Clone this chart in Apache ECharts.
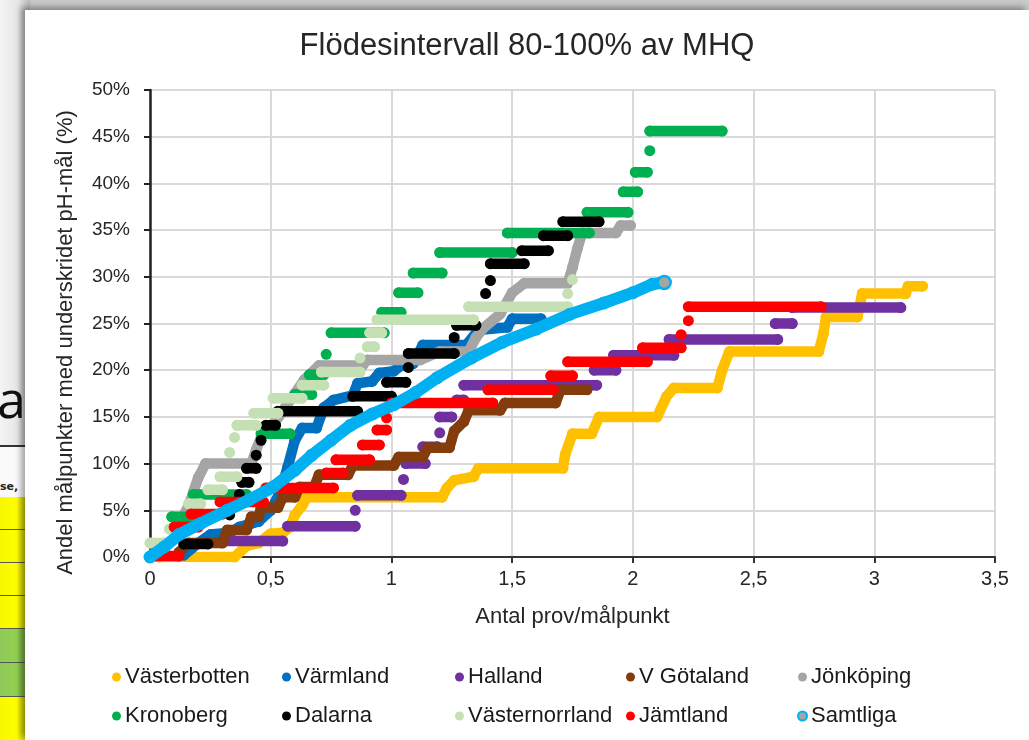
<!DOCTYPE html>
<html>
<head>
<meta charset="utf-8">
<script src="https://cdn.jsdelivr.net/npm/echarts@6/dist/echarts.min.js"></script>
<style>
  html, body { margin: 0; padding: 0; }
  body { width: 1029px; height: 740px; overflow: hidden; position: relative; background: #c9c9c9;
         font-family: "Liberation Sans", Arial, sans-serif; }
  .slide { position: absolute; left: 0; top: 0; width: 30px; height: 740px;
           background: linear-gradient(to right, #f4f4f4 0%, #e6e6e6 60%, #b9b9b9 100%); overflow: hidden; }
  .big { position: absolute; left: -3px; top: 368px; font-family: "Open Sans", sans-serif; font-size: 52px; color: #111; line-height: 60px; }
  .rule { position: absolute; left: 0; width: 30px; height: 2px; background: #333; }
  .head { position: absolute; left: 0; top: 447px; width: 30px; height: 50px; background: #fafafa; }
  .head span { position: absolute; left: 0; top: 33px; font-family: "DejaVu Sans", sans-serif; font-weight: bold; font-size: 11px; color: #222; }
  .cell { position: absolute; left: 0; width: 30px; border-bottom: 1px solid #555; }
  .y { background: linear-gradient(to right, #f7f700 0%, #ffff00 55%, #b7b700 100%); }
  .g { background: linear-gradient(to right, #8fc95a 0%, #92d050 55%, #6a9a3a 100%); }
  #box { position: absolute; left: 25px; top: 10px; width: 1004px; height: 730px; background: #fff;
         box-shadow: -4px -3px 6px rgba(0,0,0,0.35); }
  #chart { width: 1004px; height: 730px; }
</style>
</head>
<body>
<div class="slide">
  <div class="big">a</div>
  <div class="rule" style="top:445px"></div>
  <div class="head"><span>se,</span></div>
  <div class="cell y" style="top:497px;height:32px"></div>
  <div class="cell y" style="top:530px;height:32px"></div>
  <div class="cell y" style="top:563px;height:32px"></div>
  <div class="cell y" style="top:596px;height:32px"></div>
  <div class="cell g" style="top:629px;height:33px"></div>
  <div class="cell g" style="top:663px;height:33px"></div>
  <div class="cell y" style="top:697px;height:43px"></div>
</div>
<div id="box"><div id="chart"></div></div>
<script>
// värden: [antal prov/målpunkt, andel %], en lista per sammanhängande bit
const vasterbotten = [[[0.04,0],[0.35,0],[0.4,1.2],[0.45,1.5],[0.5,2.5],[0.55,2.6],[0.58,3.2],[0.6,4.5],[0.63,5.5],[0.65,6.4],[1.21,6.4],[1.23,7.4],[1.26,8.2],[1.34,8.6],[1.36,9.5],[1.71,9.5],[1.72,11],[1.75,13.2],[1.83,13.2],[1.86,15],[2.1,15],[2.14,17.2],[2.17,18.1],[2.35,18.1],[2.37,20],[2.4,22],[2.77,22],[2.79,24],[2.8,25.7],[2.93,25.7],[2.95,28.2],[3.13,28.2],[3.14,29],[3.2,29]]];
const varmland = [[[0.14,0.2],[0.2,1.5],[0.25,2.4],[0.33,2.6],[0.37,3.2],[0.45,3.8],[0.5,5],[0.54,7],[0.57,9.6],[0.6,12.5],[0.63,13.8],[0.69,13.8],[0.72,16],[0.76,16.8],[0.84,17.3],[0.86,18.6],[0.92,18.8],[0.95,19.7],[1.01,19.9],[1.04,20.5],[1.09,20.7],[1.13,22.7],[1.31,22.7],[1.36,24.3],[1.48,24.6],[1.5,25.5],[1.62,25.5]]];
const halland = [[[0.3,1.7],[0.55,1.7]],[[0.57,3.3],[0.85,3.3]],[[0.85,5.0]],[[0.86,6.6],[1.04,6.6]],[[1.05,8.3]],[[1.06,10],[1.14,10]],[[1.13,11.8],[1.19,11.8]],[[1.2,13.3]],[[1.2,15],[1.25,15]],[[1.27,16.8],[1.3,16.8]],[[1.3,18.4],[1.85,18.4]],[[1.84,20],[1.93,20]],[[1.92,21.6],[2.17,21.6]],[[2.15,23.3],[2.6,23.3]],[[2.59,25],[2.66,25]],[[2.66,26.7],[3.11,26.7]]];
const vGotaland = [[[0.12,0.5],[0.16,1.5],[0.3,1.5],[0.32,2.9],[0.4,2.9],[0.42,4.3],[0.45,4.3],[0.46,5.3],[0.53,5.3],[0.55,6.4],[0.6,6.4],[0.62,7.5],[0.68,7.5],[0.7,8.8],[0.82,8.8],[0.84,9.8],[1.01,9.8],[1.03,10.7],[1.13,10.7],[1.15,11.7],[1.24,11.7],[1.26,13.5],[1.3,14.5],[1.32,15.7],[1.45,15.7],[1.47,16.5],[1.68,16.5],[1.7,17.9],[1.81,17.9]]];
const jonkoping = [[[0.12,3.5],[0.16,5.5],[0.18,7],[0.2,8.5],[0.23,10],[0.42,10],[0.44,11.5],[0.47,13.5],[0.52,14.5],[0.56,16],[0.6,17.5],[0.64,19],[0.7,20.5],[0.88,20.5],[0.9,21.1],[1.12,21.1],[1.2,22],[1.32,22],[1.35,23.5],[1.38,24.5],[1.45,26],[1.5,28.3],[1.55,29.3],[1.73,29.3],[1.75,31],[1.77,33],[1.79,34.7],[1.93,34.7],[1.95,35.5],[1.99,35.5]]];
const kronoberg = [[[0.09,4.3],[0.17,4.3]],[[0.18,6.7],[0.4,6.7]],[[0.46,13.2],[0.58,13.2]],[[0.6,17.4],[0.67,17.4]],[[0.66,19.5],[0.72,19.5]],[[0.73,21.7]],[[0.75,24],[0.97,24]],[[0.96,26.2],[1.04,26.2]],[[1.03,28.3],[1.11,28.3]],[[1.09,30.4],[1.21,30.4]],[[1.2,32.6],[1.5,32.6]],[[1.48,34.7],[1.82,34.7]],[[1.81,36.9],[1.98,36.9]],[[1.96,39.1],[2.02,39.1]],[[2.01,41.2],[2.06,41.2]],[[2.07,43.5]],[[2.07,45.6],[2.37,45.6]]];
const dalarna = [[[0.14,1.4],[0.24,1.4]],[[0.33,4.5]],[[0.37,6.7]],[[0.38,8],[0.41,8]],[[0.4,9.5],[0.44,9.5]],[[0.44,10.9]],[[0.46,12.5]],[[0.48,14.1],[0.52,14.1]],[[0.53,15.6],[0.86,15.6]],[[0.84,17.2],[1.0,17.2]],[[0.98,18.7],[1.06,18.7]],[[1.07,20.3]],[[1.07,21.8],[1.26,21.8]],[[1.26,23.5]],[[1.27,24.8],[1.35,24.8]],[[1.39,28.2]],[[1.41,29.6]],[[1.41,31.4],[1.55,31.4]],[[1.54,32.8],[1.65,32.8]],[[1.63,34.4],[1.73,34.4]],[[1.71,35.9],[1.86,35.9]]];
const vasternorrland = [[[0.0,1.5],[0.06,1.5]],[[0.08,3.0],[0.14,3.0]],[[0.16,5.7],[0.21,5.7]],[[0.24,7.2],[0.3,7.2]],[[0.29,8.6],[0.36,8.6]],[[0.33,11.2]],[[0.35,12.8]],[[0.36,14.1],[0.44,14.1]],[[0.43,15.4],[0.53,15.4]],[[0.51,17],[0.63,17]],[[0.63,18.4],[0.72,18.4]],[[0.71,19.8],[0.87,19.8]],[[0.87,21.3]],[[0.9,22.5],[0.93,22.5]],[[0.91,24],[0.96,24]],[[0.94,25.4],[1.34,25.4]],[[1.32,26.8],[1.73,26.8]],[[1.73,28.2]],[[1.75,29.7]]];
const jamtland = [[[0.02,0.1],[0.12,0.1]],[[0.1,3.2],[0.2,3.2]],[[0.17,4.6],[0.3,4.6]],[[0.29,5.9],[0.47,5.9]],[[0.48,7.4],[0.76,7.4]],[[0.73,9],[0.8,9]],[[0.77,10.4],[0.91,10.4]],[[0.88,12],[0.95,12]],[[0.94,13.6],[0.98,13.6]],[[0.98,14.9]],[[1.0,16.5],[1.42,16.5]],[[1.4,17.9],[1.67,17.9]],[[1.66,19.4],[1.75,19.4]],[[1.73,20.9],[2.06,20.9]],[[2.04,22.4],[2.2,22.4]],[[2.2,23.8]],[[2.23,25.3]],[[2.23,26.8],[2.78,26.8]]];
const samtliga = [[[0,0],[0.06,1.1],[0.12,2.4],[0.21,3.6],[0.32,5.0],[0.41,6.1],[0.51,7.5],[0.6,9.3],[0.67,10.9],[0.75,12.5],[0.83,14.1],[0.92,15.3],[1.01,16.3],[1.1,17.6],[1.19,19.2],[1.33,21.3],[1.46,23],[1.6,24.4],[1.74,26],[1.88,27.2],[2.0,28.3],[2.08,29.2],[2.13,29.4]]];

const regions = ["Västerbotten","Värmland","Halland","V Götaland","Jönköping","Kronoberg","Dalarna","Västernorrland","Jämtland","Samtliga"];
const colors = ["#FFC000","#0070C0","#7030A0","#843C0C","#A5A5A5","#00B050","#000000","#C5E0B4","#FF0000","#00B0F0"];
const seriesPoints = [vasterbotten,varmland,halland,vGotaland,jonkoping,kronoberg,dalarna,vasternorrland,jamtland,samtliga];

const toData = (segs) => {
  const out = [];
  segs.forEach((s, i) => {
    if (i) out.push(null);
    s.forEach((p) => out.push(p));
  });
  return out;
};

const font = '"Liberation Sans", Arial, sans-serif';
const chart = echarts.init(document.getElementById('chart'));

const series = regions.map((name, i) => {
  const big = name === 'Samtliga';
  const data = toData(seriesPoints[i]);
  if (big) {
    const last = data[data.length - 1];
    data[data.length - 1] = { value: last, itemStyle: { color: '#A5A5A5', borderColor: '#00B0F0', borderWidth: 2.5 } };
  }
  return {
    name,
    type: 'line',
    data,
    connectNulls: false,
    showSymbol: true,
    showAllSymbol: true,
    symbol: 'circle',
    symbolSize: big ? 13 : 11,
    lineStyle: { width: big ? 12 : 10.5, color: colors[i], cap: 'round', join: 'round' },
    itemStyle: { color: colors[i], borderWidth: 0 },
    emphasis: { disabled: true },
    z: 2 + i
  };
});

// fem kolumner med två rader i legenden
const legendCols = [116, 286, 459, 630, 801];
const legends = legendCols.map((x, c) => ({
  orient: 'vertical',
  left: x - 25 - 9,
  top: 650,
  itemWidth: 9,
  itemHeight: 9,
  itemGap: 15,
  icon: 'circle',
  data: [regions[c], regions[c + 5]].map((n) => n === 'Samtliga'
    ? { name: n, itemStyle: { color: '#A5A5A5', borderColor: '#00B0F0', borderWidth: 2 } }
    : { name: n }),
  textStyle: { fontFamily: font, fontSize: 22, color: '#1a1a1a', lineHeight: 24, padding: [0, 0, 0, -1] }
}));

const option = {
  animation: false,
  title: {
    text: 'Flödesintervall 80-100% av MHQ',
    left: 'center',
    top: 16,
    textStyle: { fontFamily: font, fontSize: 31, fontWeight: 'normal', color: '#262626' }
  },
  grid: { left: 125, right: 34, top: 80, bottom: 183 },
  legend: legends,
  xAxis: {
    type: 'value',
    min: 0,
    max: 3.5,
    interval: 0.5,
    name: 'Antal prov/målpunkt',
    nameLocation: 'middle',
    nameGap: 49,
    nameTextStyle: { fontFamily: font, fontSize: 22, color: '#262626' },
    axisLine: { show: true, onZero: false, lineStyle: { color: '#333', width: 2 } },
    axisTick: { show: true, length: 6, lineStyle: { color: '#333', width: 2 } },
    axisLabel: {
      fontFamily: font, fontSize: 20, color: '#262626', margin: 12,
      formatter: (v) => String(v).replace('.', ',')
    },
    splitLine: { show: true, lineStyle: { color: '#d9d9d9', width: 2 } }
  },
  yAxis: {
    type: 'value',
    min: 0,
    max: 50,
    interval: 5,
    name: 'Andel målpunkter med underskridet pH-mål (%)',
    nameLocation: 'middle',
    nameGap: 73,
    nameTextStyle: { fontFamily: font, fontSize: 22, color: '#262626', padding: [0, 38, 0, 0] },
    axisLine: { show: true, lineStyle: { color: '#222', width: 2.5 } },
    axisTick: { show: true, length: 6, lineStyle: { color: '#222', width: 2 } },
    axisLabel: { fontFamily: font, fontSize: 19, color: '#262626', margin: 20, formatter: '{value}%' },
    splitLine: { show: true, lineStyle: { color: '#d9d9d9', width: 2 } }
  },
  series
};

chart.setOption(option);
</script>
</body>
</html>
